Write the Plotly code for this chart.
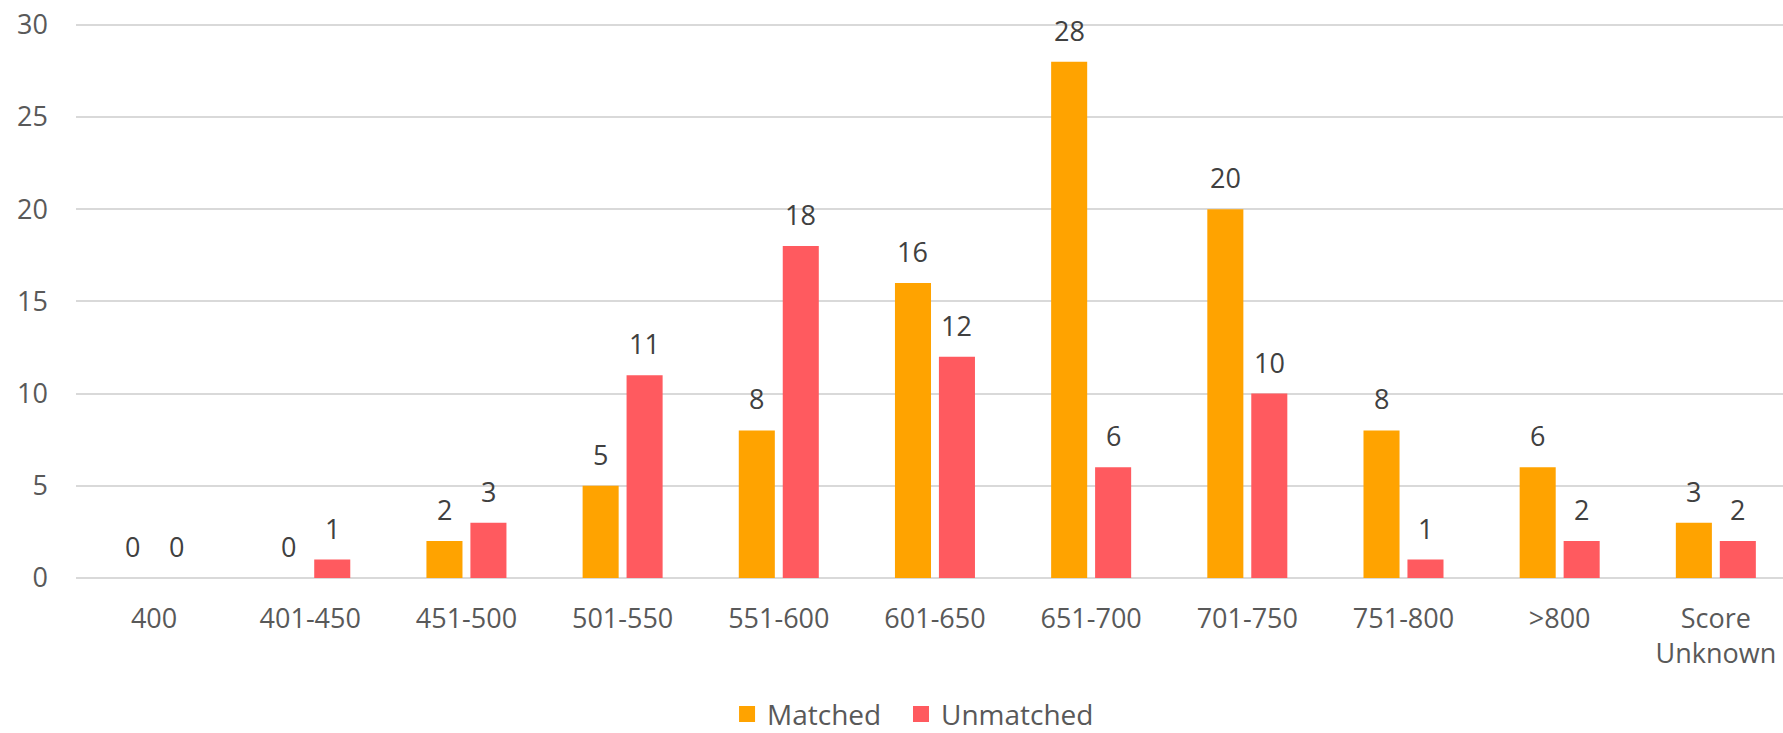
import plotly.graph_objects as go

categories = ["400", "401-450", "451-500", "501-550", "551-600", "601-650",
              "651-700", "701-750", "751-800", ">800", "Score<br>Unknown"]
matched = [0, 0, 2, 5, 8, 16, 28, 20, 8, 6, 3]
unmatched = [0, 1, 3, 11, 18, 12, 6, 10, 1, 2, 2]
series_names = ["Matched", "Unmatched"]
colors = ["#FFA300", "#FF5A5F"]
legend_ids = ["legend", "legend2"]

FONT = "Open Sans, Noto Sans, sans-serif"
TICK_COLOR = "#595959"
LABEL_COLOR = "#404040"

fig = go.Figure()
for name, vals, col in zip(series_names, [matched, unmatched], colors):
    fig.add_trace(go.Bar(
        name=name, x=categories, y=vals, marker=dict(color=col, line=dict(width=0)),
        hoverinfo="skip", showlegend=False, legendgroup=name,
    ))
# legend proxies (larger square swatches), each in its own legend box
for name, col, lg in zip(series_names, colors, legend_ids):
    fig.add_trace(go.Scatter(
        name=name, x=[None], y=[None], mode="markers", legendgroup=name,
        marker=dict(symbol="square", size=16, color=col, line=dict(width=0)),
        hoverinfo="skip", showlegend=True, legend=lg,
    ))

annotations = []
for vals, shift in [(matched, -22), (unmatched, 22)]:
    for i, v in enumerate(vals):
        annotations.append(dict(
            x=i, y=v, xref="x", yref="y", text=str(v), showarrow=False,
            xshift=shift, yshift=11, yanchor="bottom", xanchor="center",
            font=dict(family=FONT, size=27, color=LABEL_COLOR),
        ))

legend_style = dict(orientation="h", xanchor="left", y=-0.2, yanchor="top",
                    font=dict(family=FONT, size=28, color=TICK_COLOR),
                    itemsizing="trace", bgcolor="rgba(0,0,0,0)")

fig.update_layout(
    width=1783, height=733,
    margin=dict(l=76, r=0, t=22, b=155, autoexpand=False),
    paper_bgcolor="white", plot_bgcolor="white",
    barmode="group", bargap=0.437, bargroupgap=0.18,
    font=dict(family=FONT, size=27, color=TICK_COLOR),
    showlegend=True,
    legend=dict(x=0.3814, **legend_style),
    legend2=dict(x=0.4833, **legend_style),
    annotations=annotations,
    hovermode=False,
)
fig.update_xaxes(
    type="category", range=[-0.5, 10.43], showgrid=False, showline=False,
    zeroline=False, ticks="", tickfont=dict(family=FONT, size=27, color=TICK_COLOR),
    ticklabelstandoff=22, automargin=False,
)
fig.update_yaxes(
    range=[0, 30.15], tickvals=[0, 5, 10, 15, 20, 25, 30], showgrid=True,
    gridcolor="#D9D9D9", gridwidth=1.5,
    zeroline=True, zerolinecolor="#D9D9D9", zerolinewidth=1.5, showline=False,
    tickfont=dict(family=FONT, size=27, color=TICK_COLOR), ticklabelstandoff=27,
    ticklabeloverflow="allow", automargin=False,
)

fig.write_html("out.html", config={"displayModeBar": False},
               post_script="document.body.style.margin='0px';")
